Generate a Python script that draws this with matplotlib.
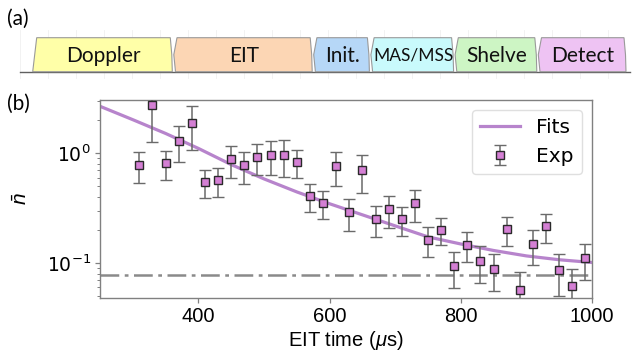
import numpy as np
import matplotlib
matplotlib.use("Agg")
import matplotlib.pyplot as plt
from matplotlib.patches import Polygon

plt.rcParams['mathtext.fontset'] = 'custom'
plt.rcParams['mathtext.rm'] = 'Liberation Sans'
plt.rcParams['mathtext.it'] = 'Liberation Sans:italic'

# (a) pulse sequence: stage names, widths (px) and fill colours
stages = ["Doppler", "EIT", "Init.", "MAS/MSS", "Shelve", "Detect"]
stage_w = [139.6, 138.7, 56, 83, 82, 88]
stage_c = ["#ffffa8", "#fcd6b4", "#b6d7f7", "#c9fafc", "#cdf5c4", "#eec3f3"]
stage_fs = [15, 15, 15, 12.5, 15, 15]

# (b) measured mean phonon number vs EIT time
t_exp = [310, 330, 350, 370, 390, 410, 430, 450, 470, 490, 510, 530, 550, 570,
         590, 610, 630, 650, 670, 690, 710, 730, 750, 770, 790, 810, 830, 850,
         870, 890, 910, 930, 950, 970, 990]
n_exp = [0.78, 2.79, 0.81, 1.31, 1.9, 0.545, 0.57, 0.88, 0.78, 0.93, 0.97, 0.97,
         0.84, 0.41, 0.353, 0.77, 0.289, 0.70, 0.251, 0.31, 0.251, 0.353, 0.163,
         0.20, 0.093, 0.146, 0.104, 0.089, 0.204, 0.057, 0.148, 0.216, 0.086,
         0.061, 0.11]
n_err = [0.24, 1.51, 0.24, 0.47, 0.82, 0.155, 0.17, 0.28, 0.255, 0.29, 0.33, 0.36,
         0.24, 0.12, 0.10, 0.265, 0.094, 0.265, 0.08, 0.10, 0.075, 0.115, 0.049,
         0.055, 0.034, 0.045, 0.038, 0.033, 0.06, 0.026, 0.052, 0.063, 0.036,
         0.028, 0.04]

# fit curve
t_fit = [250, 300, 350, 400, 450, 500, 550, 600, 650, 700, 750, 800, 850, 900, 950, 1000]
n_fit = [2.69, 2.03, 1.52, 1.11, 0.79, 0.585, 0.445, 0.347, 0.275, 0.218, 0.173,
         0.149, 0.13, 0.116, 0.107, 0.101]

n_floor = 0.078

fig = plt.figure(figsize=(6.33, 3.6), dpi=100)

# ---- panel (a), drawn in pixel coordinates
axa = fig.add_axes([0, 0, 1, 1])
axa.set_xlim(0, 633)
axa.set_ylim(360, 0)
axa.axis("off")

top, bot = 37.7, 71.7
mid = (top + bot) / 2
for gx in np.arange(20, 630, 28):
    axa.plot([gx, gx], [30, 78], color="#f0f0f0", lw=0.6, zorder=0)
axa.plot([20, 630], [bot, bot], color="#606060", lw=1.0, zorder=1)

x0 = 32.7
for i, (name, w, c, fs) in enumerate(zip(stages, stage_w, stage_c, stage_fs)):
    x1 = x0 + w
    if i == 0:
        pts = [(x0 + 4, top), (x1 - 2, top), (x1 - 0.5, mid), (x1, bot), (x0, bot)]
    else:
        pts = [(x0 + 3.5, top), (x1 - 2, top), (x1 - 0.5, mid), (x1, bot),
               (x0 + 2, bot), (x0 + 0.3, mid)]
    axa.add_patch(Polygon(pts, closed=True, facecolor=c, edgecolor="#9a9a9a",
                          lw=0.8, zorder=2))
    axa.text((x0 + x1) / 2 + 1, mid + 1, name, ha="center", va="center",
             fontsize=fs, family="Lato", color="#111111", zorder=3)
    x0 = x1 + 1.2

axa.text(7, 19, "(a)", fontsize=15, family="Lato", ha="left", va="center")
axa.text(7, 104, "(b)", fontsize=15, family="Lato", ha="left", va="center")

# ---- panel (b)
ax = fig.add_axes([100 / 633, 1 - 298 / 360, 492 / 633, 198 / 360])
ax.plot(t_fit, n_fit, color="#b784cc", lw=2.3, label="Fits", zorder=2)
ax.errorbar(t_exp, n_exp, yerr=n_err, fmt="s", ms=5.5, mfc="#d47fd4",
            mec="#2a2a2a", mew=1.0, ecolor="#6a6a6a", elinewidth=1.1,
            capsize=4, capthick=1.1, label="Exp", zorder=3)
ax.axhline(n_floor, color="#8a8a8a", lw=1.8, ls=(0, (7.5, 2.2, 1.5, 2.2)), zorder=1)

ax.set_yscale("log")
ax.set_xlim(250, 1000)
ax.set_ylim(0.0479, 3.07)
ax.set_xticks([400, 600, 800, 1000])
ax.set_xlabel(r"EIT time ($\mu$s)", fontsize=14.5, family="Liberation Sans", labelpad=2)
ax.set_ylabel(r"$\bar{n}$", fontsize=15)
ax.yaxis.set_label_coords(-0.14, 0.5)

for sp in ax.spines.values():
    sp.set_color("#808080")
    sp.set_linewidth(1.0)
ax.tick_params(axis="both", which="major", labelsize=14.5, color="#808080",
               length=3.5, width=0.9, pad=3)
ax.tick_params(axis="y", which="major", labelsize=13.5)
ax.tick_params(axis="both", which="minor", color="#808080", length=2, width=0.7)
for lab in ax.get_xticklabels():
    lab.set_family("Liberation Sans")

leg = ax.legend(loc="upper right", frameon=True, framealpha=0.8,
                edgecolor="#d8d8d8", handlelength=2.0,
                prop={"family": "DejaVu Sans", "size": 14.5})

fig.savefig("out.png", dpi=100)
